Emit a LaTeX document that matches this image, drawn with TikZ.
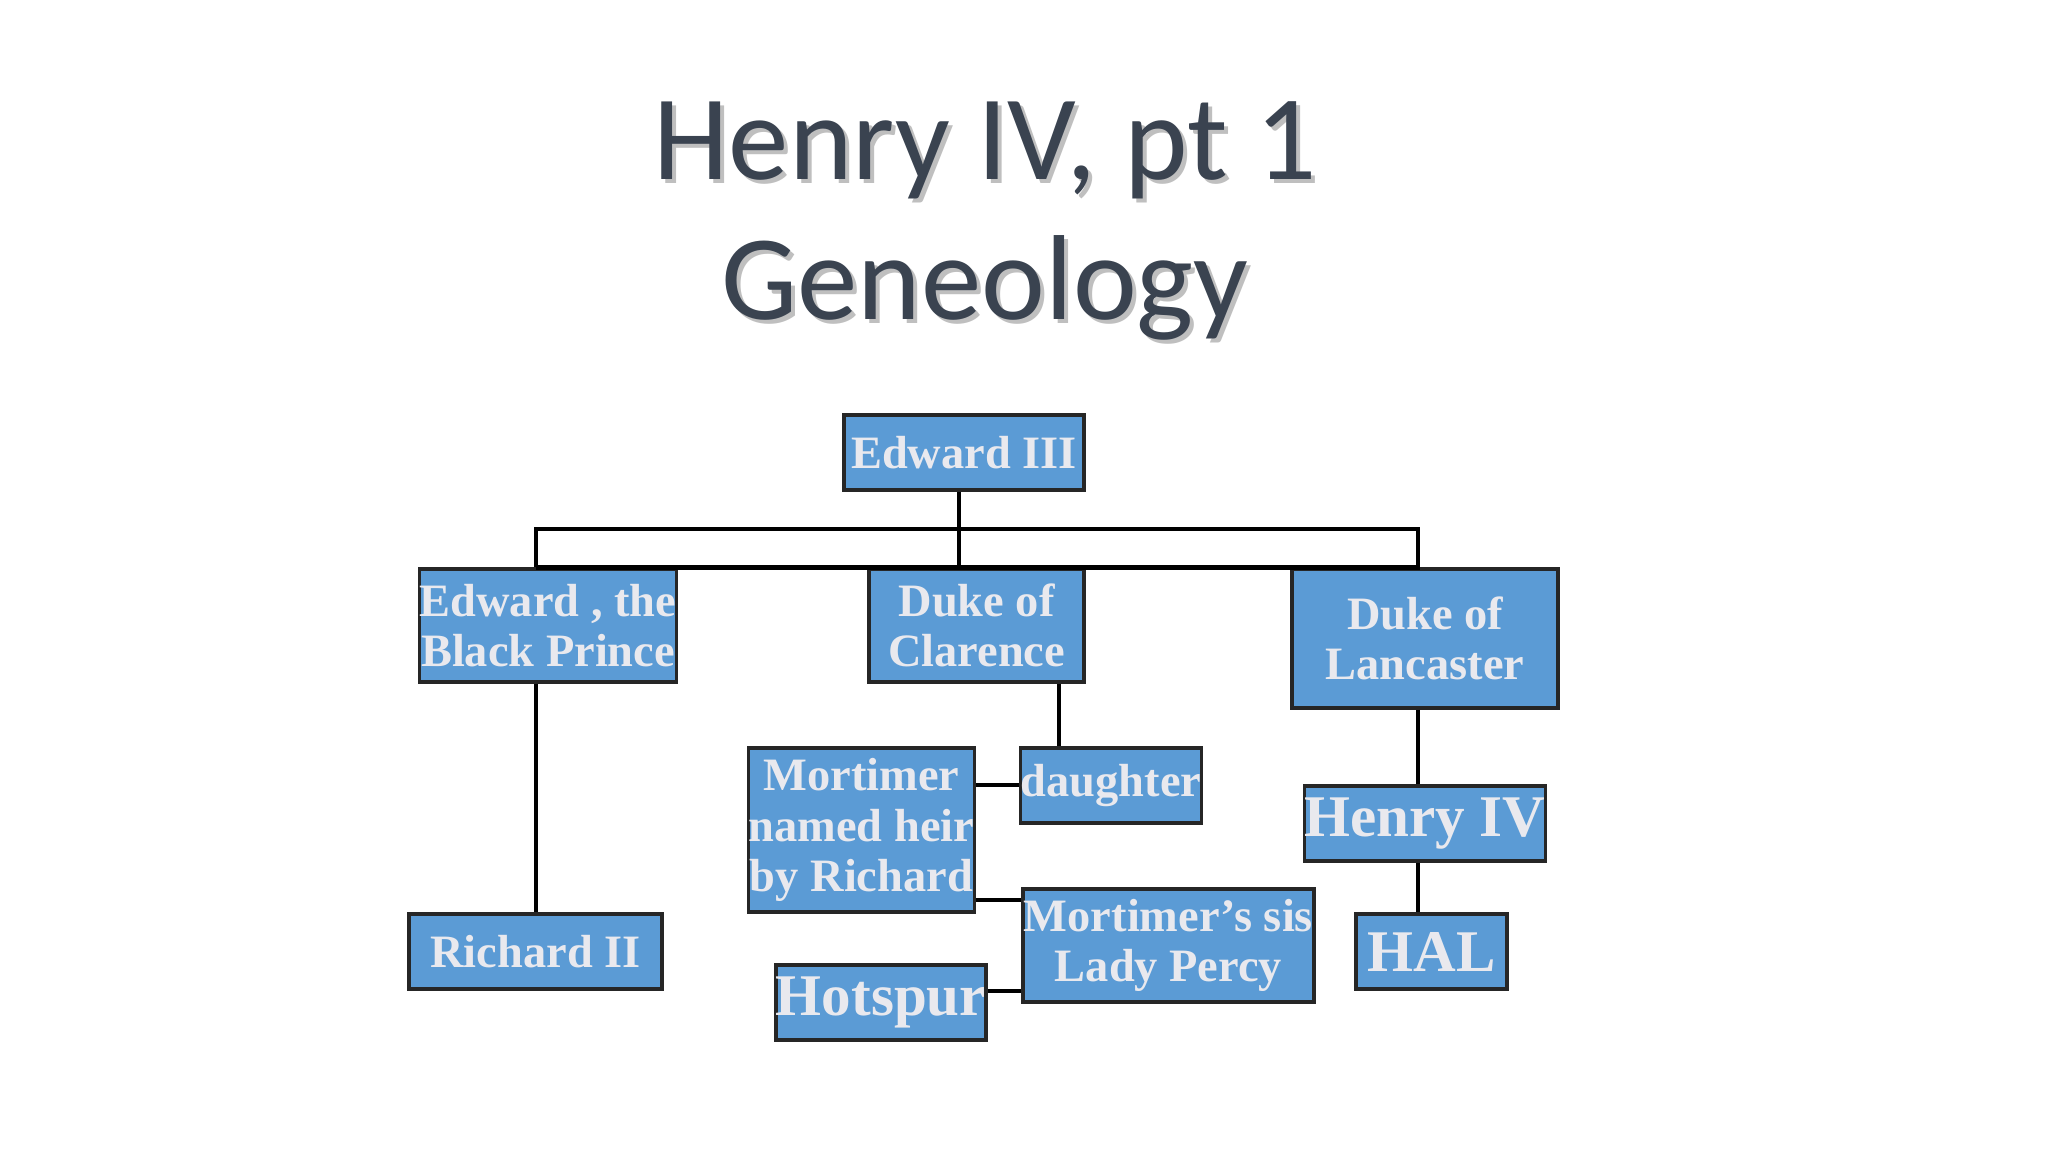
\documentclass[tikz,border=0pt]{standalone}
\usepackage{fontspec}
\setmainfont{Liberation Serif}
\newfontfamily\titlefont{Carlito}
\definecolor{boxblue}{HTML}{5B9BD5}
\definecolor{boxtext}{HTML}{E9E9EE}
\definecolor{titlegray}{HTML}{3A4350}
\begin{document}
\begin{tikzpicture}[x=0.0125cm,y=-0.0125cm,
  pbox/.style={draw=black!85,line width=1.1pt,fill=boxblue,text=boxtext,font=\bfseries\fontsize{16.5}{18}\selectfont,align=center,inner sep=0pt},
  big/.style={font=\bfseries\fontsize{21}{22}\selectfont},
  link/.style={line width=1.6pt,black}]
\useasboundingbox (0,0) rectangle (2048,1152);
\fill[white] (0,0) rectangle (2048,1152);
\node[text=black!25,font=\titlefont\fontsize{43}{50}\selectfont,align=center] at (989,225) {Henry IV, pt 1\\Geneology};
\node (title) [text=titlegray,font=\titlefont\fontsize{43}{50}\selectfont,align=center] at (985,221) {Henry IV, pt 1\\Geneology};
% boxes
\newcommand{\pbx}[6]{\node (#1) [pbox,#6,minimum width=#4-#2,minimum height=#5-#3] at ({(#2+#4)/2},{(#3+#5)/2}) {#1text};}
\node (e3) [pbox,minimum width=240*0.0125cm,minimum height=75*0.0125cm] at (964,452.5) {Edward III};
\node (bp) [pbox,minimum width=254*0.0125cm,minimum height=113*0.0125cm] at (548,625.5) {Edward , the\\Black Prince};
\node (cl) [pbox,minimum width=215*0.0125cm,minimum height=113*0.0125cm] at (976.5,625.5) {Duke of\\Clarence};
\node (la) [pbox,minimum width=266*0.0125cm,minimum height=139*0.0125cm] at (1425,638.5) {Duke of\\Lancaster};
\node (mo) [pbox,minimum width=215*0.0125cm,minimum height=164*0.0125cm] at (861.5,830) {Mortimer\\named heir\\by Richard};
\node (da) [pbox,minimum width=176*0.0125cm,minimum height=75*0.0125cm] at (1111,785.5) {daughter};
\node (h4) [pbox,big,minimum width=240*0.0125cm,minimum height=75*0.0125cm] at (1425,823.5) {Henry IV};
\node (r2) [pbox,minimum width=253*0.0125cm,minimum height=75*0.0125cm] at (535.5,951.5) {Richard II};
\node (ms) [pbox,minimum width=291*0.0125cm,minimum height=113*0.0125cm] at (1168.5,945.5) {Mortimer’s sis\\Lady Percy};
\node (hal) [pbox,big,minimum width=151*0.0125cm,minimum height=75*0.0125cm] at (1431.5,951.5) {HAL};
\node (hs) [pbox,big,minimum width=202*0.0125cm,minimum height=75*0.0125cm] at (881,1002.5) {Hotspur};
% connectors
\coordinate (bar) at (959,529);
\draw[link] (e3.south -| bar) -- (bar);
\draw[link] (bp.north -| 536,0) |- (la.north -| 1418,0) -- (1418,529) -- (la.north -| 1418,0);
\draw[link] (bp.north -| 536,0) -- (536,529) -- (1418,529) -- (la.north -| 1418,0);
\draw[link] (bar) -- (cl.north -| bar);
\draw[link] (bp.south -| 536,0) -- (r2.north -| 536,0);
\draw[link] (cl.south -| 1059,0) -- (da.north -| 1059,0);
\draw[link] (mo.east |- 0,785) -- (da.west |- 0,785);
\draw[link] (mo.east |- 0,900) -- (ms.west |- 0,900);
\draw[link] (hs.east |- 0,991) -- (ms.west |- 0,991);
\draw[link] (la.south -| 1418,0) -- (h4.north -| 1418,0);
\draw[link] (h4.south -| 1418,0) -- (hal.north -| 1418,0);
\end{tikzpicture}
\end{document}
